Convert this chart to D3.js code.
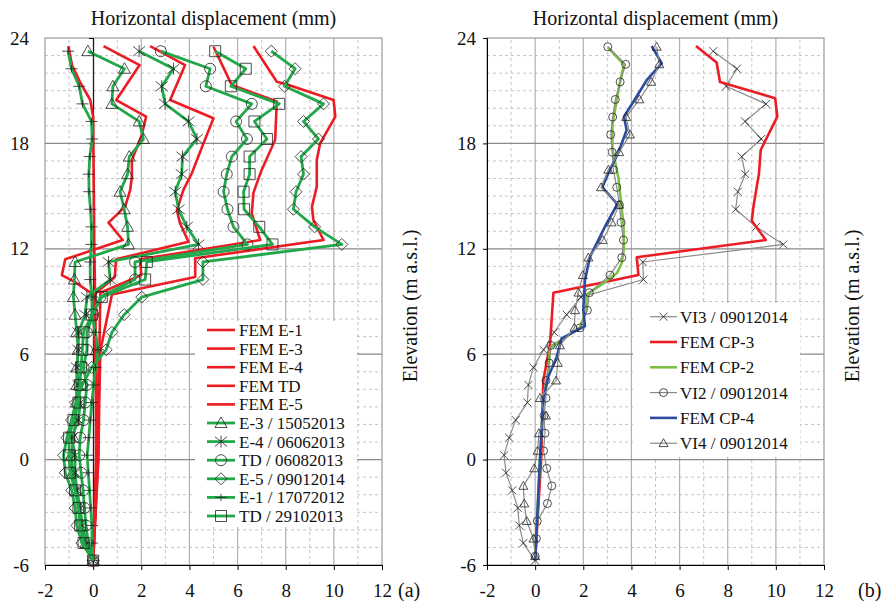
<!DOCTYPE html>
<html>
<head>
<meta charset="utf-8">
<script src="https://cdn.jsdelivr.net/npm/d3@7"></script>
<style>
    body { margin: 0; background: #fff; }
    svg text { font-family: 'Liberation Serif', 'Times New Roman', serif; fill: #111; }
</style>
</head>
<body>
<script>
// axes
const xDomain = [-2, 12];
const yDomain = [-6, 24];
const xTicks = [-2, 0, 2, 4, 6, 8, 10, 12];
const yTicks = [-6, 0, 6, 12, 18, 24];
const xMinor = [-1, 1, 3, 5, 7, 9, 11];
const xMajor = [0, 2, 4, 6, 8, 10];
const yMinor = [-5, -4, -3, -2, -1, 1, 2, 3, 4, 5, 7, 8, 9, 10, 11, 13, 14, 15, 16, 17, 19, 20, 21, 22, 23];
const yMajor = [0, 6, 12, 18];

// reading depths (m a.s.l.)
const levelsA = [23.25, 22.25, 21.25, 20.25, 19.25, 18.25, 17.25, 16.25, 15.25, 14.25, 13.25, 12.25, 11.25, 10.25, 9.25,
    8.25, 7.25, 6.25, 5.25, 4.25, 3.25, 2.25, 1.25, 0.25, -0.75, -1.75, -2.75, -3.75, -4.75, -5.75];
const levelsB = [23.5, 22.5, 21.5, 20.5, 19.5, 18.5, 17.5, 16.5, 15.5, 14.5, 13.5, 12.5, 11.5, 10.5, 9.5,
    8.5, 7.5, 6.5, 5.5, 4.5, 3.5, 2.5, 1.5, 0.5, -0.5, -1.5, -2.5, -3.5, -4.5, -5.5];

// (a) measured displacement (mm), top to bottom
const e3Obs = [-0.22, 1.30, 0.82, 0.78, 1.91, 2.09, 1.50, 1.43, 1.12, 1.29, 1.43, 1.47, -0.75, -0.78, -0.82,
    -0.75, -0.68, -0.62, -0.68, -0.68, -0.70, -0.72, -0.82, -0.90, -0.85, -0.70, -0.55, -0.45, -0.30, 0];
const e4Obs = [1.91, 3.34, 2.85, 2.99, 3.96, 4.31, 3.71, 3.68, 3.41, 3.55, 3.89, 4.38, 0.64, 0.71, -0.26,
    -0.33, -0.61, -0.61, -0.68, -0.61, -0.54, -0.61, -0.89, -0.75, -0.75, -0.68, -0.54, -0.47, -0.26, 0];
const tdAugObs = [2.81, 4.86, 4.68, 6.59, 5.94, 6.39, 5.76, 5.55, 5.42, 5.58, 5.83, 6.41, 1.74, 1.74, 0.29,
    0.0, -0.26, -0.26, -0.40, -0.26, -0.33, -0.40, -0.54, -0.58, -0.50, -0.42, -0.36, -0.30, -0.20, 0];
const e5Obs = [7.40, 8.39, 7.95, 9.57, 8.74, 9.36, 8.64, 8.74, 8.43, 8.32, 9.20, 10.33, 4.56, 4.56, 2.02,
    1.29, 0.78, 0.54, -0.06, -0.45, -0.72, -0.90, -1.09, -1.23, -1.16, -0.89, -0.75, -0.68, -0.47, 0];
const e1Obs = [-1.04, -0.90, -0.58, -0.44, -0.07, -0.04, -0.14, -0.18, -0.17, -0.11, -0.07, -0.07, -0.12, -0.12, -0.05,
    -0.05, 0.10, 0.20, 0.10, 0.02, -0.05, -0.12, -0.18, -0.25, -0.20, -0.15, -0.10, -0.05, -0.05, 0];
const tdOctObs = [5.07, 6.34, 5.72, 7.73, 6.70, 7.22, 6.50, 6.50, 6.25, 6.27, 6.90, 7.45, 2.23, 2.16, 0.36,
    -0.05, -0.40, -0.45, -0.50, -0.55, -0.61, -0.82, -1.00, -1.00, -0.96, -0.75, -0.61, -0.54, -0.40, 0];

// (a) FEM profiles: elevation / displacement
const femE1Elev = [23.54, 22.46, 21.5, 20.47, 19.52, 12, 9.4, 3, 0, -5.75];
const femE1X = [-1.03, -0.88, -0.55, -0.12, 0.0, 0.05, 0.08, 0.12, 0.12, 0];
const femE3Elev = [23.54, 22.46, 20.47, 19.52, 18.48, 17.06, 16.11, 15.35, 14.4, 13.49, 12.5, 11.4, 10.5, 10.1, 9.4, 3, 0, -5.75];
const femE3X = [0.43, 1.93, 0.96, 2.2, 2.02, 1.61, 1.61, 1.54, 1.33, 0.64, 1.23, -1.16, -1.3, -0.75, 0.0, 0.15, 0.15, 0];
const femE4Elev = [23.54, 22.46, 20.47, 19.43, 18.0, 16.3, 15.35, 14.2, 13.45, 12.4, 11.4, 10.4, 9.4, 3, 0, -5.75];
const femE4X = [2.37, 3.82, 3.2, 5.0, 4.58, 4.1, 3.75, 3.48, 3.61, 3.96, 0.95, 0.9, 0.05, 0.18, 0.18, 0];
const femTdElev = [23.5, 21.32, 20.38, 18.19, 16.49, 15.2, 14.02, 12.5, 11.4, 10.5, 9.5, 3, 0, -5.75];
const femTdX = [5.0, 5.76, 7.63, 7.56, 7.0, 6.66, 6.59, 6.94, 1.95, 2.0, 0.3, 0.22, 0.2, 0];
const femE5Elev = [23.54, 21.51, 21.32, 20.47, 19.52, 18.0, 17.06, 15.54, 14.4, 13.64, 12.5, 11.46, 10.4, 9.4, 7.2, 6.2, 3, 0, -5.75];
const femE5X = [6.66, 7.63, 8.12, 9.99, 10.06, 9.43, 9.29, 9.29, 9.09, 9.15, 9.57, 4.24, 4.24, 0.78, 0.45, 0.3, 0.25, 0.22, 0];

// (b) measured
const vi3Obs = [7.40, 8.38, 7.93, 9.59, 8.72, 9.39, 8.58, 8.73, 8.42, 8.33, 9.18, 10.31, 4.47, 4.50, 1.90,
    1.31, 0.79, 0.35, -0.07, -0.28, -0.32, -0.81, -1.08, -1.29, -1.21, -0.95, -0.72, -0.66, -0.49, 0];
const vi2Obs = [3.02, 3.76, 3.53, 3.33, 3.22, 3.14, 3.20, 3.25, 3.39, 3.50, 3.57, 3.67, 3.60, 3.11, 2.25,
    2.17, 1.87, 0.66, 0.58, 0.45, 0.45, 0.37, 0.41, 0.35, 0.48, 0.69, 0.51, 0.09, 0.05, 0];
const vi4Obs = [5.05, 5.16, 4.82, 4.33, 3.78, 3.94, 3.49, 3.04, 2.74, 3.49, 3.18, 2.81, 2.21, 1.98, 1.80,
    1.66, 1.63, 1.03, 0.94, 0.87, 0.20, 0.45, 0.16, 0.10, -0.04, -0.49, -0.45, -0.35, -0.07, 0];

// (b) FEM profiles
const femCp3Elev = [23.54, 22.6, 21.5, 20.57, 19.52, 17.62, 16.3, 14.4, 13.6, 12.5, 11.52, 10.51, 9.5, 6.6, 4.5, 0, -5.75];
const femCp3X = [6.68, 7.54, 7.68, 9.97, 10.06, 9.37, 9.3, 9.07, 9.0, 9.58, 4.22, 4.29, 0.76, 0.62, 0.34, 0.25, 0];
const femCp2Elev = [23.47, 22.48, 21.53, 19.07, 17.74, 16.03, 13.37, 12.04, 11.19, 10.62, 10.05, 9.39, 8.5, 7.55, 6.65, 6.35, 4.93, 3.6, 0, -5.75];
const femCp2X = [3.02, 3.69, 3.53, 3.21, 3.21, 3.46, 3.67, 3.69, 3.6, 3.4, 2.84, 2.14, 2.12, 1.87, 0.97, 0.62, 0.55, 0.34, 0.2, 0];
const femCp4Elev = [23.54, 22.56, 21.61, 20.37, 19.52, 18.76, 17.44, 16.49, 15.5, 14.55, 13.45, 11.55, 10.23, 8.52, 7.6, 6.9, 5.86, 4.73, 3.4, 0, -5.75];
const femCp4X = [4.84, 5.26, 4.64, 4.08, 3.69, 3.8, 3.45, 3.1, 2.79, 3.42, 2.97, 2.28, 2.07, 2.0, 2.07, 1.1, 0.9, 0.55, 0.34, 0.2, 0];

const RED = '#ec1c24', GREEN = '#22a84a', LIGHTGREEN = '#7dc143', BLUE = '#2e4c9f', GREY = '#8a8a8a';

// plain hyphen minus, as in the original figure
const fmt = d => String(d);

function markerPath(type, s) {
    const p = d3.path();
    const h = s / 2;
    if (type === 'triangle') {
        p.moveTo(0, -h); p.lineTo(h, h * 0.75); p.lineTo(-h, h * 0.75); p.closePath();
    } else if (type === 'circle') {
        p.moveTo(h, 0); p.arc(0, 0, h, 0, 2 * Math.PI);
    } else if (type === 'square') {
        p.rect(-h, -h, s, s);
    } else if (type === 'diamond') {
        p.moveTo(0, -h); p.lineTo(h, 0); p.lineTo(0, h); p.lineTo(-h, 0); p.closePath();
    } else if (type === 'plus') {
        p.moveTo(-h, 0); p.lineTo(h, 0); p.moveTo(0, -h * 0.6); p.lineTo(0, h * 0.6);
    } else if (type === 'times') {
        p.moveTo(-h, -h); p.lineTo(h, h); p.moveTo(h, -h); p.lineTo(-h, h);
    } else if (type === 'asterisk') {
        p.moveTo(-h, -h * 0.8); p.lineTo(h, h * 0.8); p.moveTo(h, -h * 0.8); p.lineTo(-h, h * 0.8);
        p.moveTo(0, -h); p.lineTo(0, h);
    }
    return p.toString();
}

class Panel {
    #x
    #y
    #g

    constructor(svg, left, right) {
        this.#x = d3.scaleLinear().domain(xDomain).range([left, right]);
        this.#y = d3.scaleLinear().domain(yDomain).range([565, 38]);
        this.#g = svg.append('g');
    }

    get x() { return this.#x; }
    get y() { return this.#y; }
    get g() { return this.#g; }

    renderGrid() {
        const [x0, x1] = this.x.range();
        const [y0, y1] = this.y.range();
        const grid = this.g.append('g').attr('class', 'grid');
        grid.selectAll('line.vmin').data(xMinor).enter().append('line')
            .attr('x1', d => this.x(d)).attr('x2', d => this.x(d))
            .attr('y1', y0).attr('y2', y1)
            .attr('stroke', '#c4c4c4').attr('stroke-dasharray', '3,3');
        grid.selectAll('line.hmin').data(yMinor).enter().append('line')
            .attr('y1', d => this.y(d)).attr('y2', d => this.y(d))
            .attr('x1', x0).attr('x2', x1)
            .attr('stroke', '#c4c4c4').attr('stroke-dasharray', '3,3');
        grid.selectAll('line.vmaj').data(xMajor).enter().append('line')
            .attr('x1', d => this.x(d)).attr('x2', d => this.x(d))
            .attr('y1', y0).attr('y2', y1)
            .attr('stroke', '#b0b0b0').attr('stroke-width', 1.2);
        grid.selectAll('line.hmaj').data(yMajor).enter().append('line')
            .attr('y1', d => this.y(d)).attr('y2', d => this.y(d))
            .attr('x1', x0).attr('x2', x1)
            .attr('stroke', '#8a8a8a').attr('stroke-width', 1.3);
        grid.append('rect')
            .attr('x', x0).attr('y', y1)
            .attr('width', x1 - x0).attr('height', y0 - y1)
            .attr('fill', 'none').attr('stroke', '#9a9a9a').attr('stroke-width', 1.2);
    }

    renderAxes(axisAt, labelX, title, tag, tagX, elevX) {
        const xAxis = d3.axisBottom(this.x).tickValues(xTicks).tickFormat(fmt).tickSize(5).tickPadding(14);
        const gx = this.g.append('g')
            .attr('transform', 'translate(0,' + this.y(-6) + ')')
            .call(xAxis);
        gx.selectAll('text').style('font-size', '19px');

        const yAxis = d3.axisLeft(this.y).tickValues(yTicks).tickSize(4).tickFormat('');
        this.g.append('g')
            .attr('transform', 'translate(' + this.x(axisAt) + ',0)')
            .call(yAxis);

        const yLab = d3.axisLeft(this.y).tickValues(yTicks).tickFormat(fmt).tickSize(0).tickPadding(0);
        const gl = this.g.append('g')
            .attr('transform', 'translate(' + labelX + ',0)')
            .call(yLab);
        gl.select('.domain').remove();
        gl.selectAll('text').style('font-size', '19px');

        const [x0, x1] = this.x.range();
        this.g.append('text')
            .attr('x', (x0 + x1) / 2).attr('y', 25)
            .attr('text-anchor', 'middle')
            .style('font-size', '20px')
            .text(title);
        this.g.append('text')
            .attr('x', tagX).attr('y', 597)
            .style('font-size', '20px')
            .text(tag);
        this.g.append('text')
            .attr('transform', 'translate(' + elevX + ',306) rotate(-90)')
            .attr('text-anchor', 'middle')
            .style('font-size', '20px')
            .text('Elevation (m a.s.l.)');
    }

    renderSeries(series) {
        const line = d3.line().x(d => this.x(d[0])).y(d => this.y(d[1]));
        series.forEach(s => {
            const pts = d3.zip(s.xs, s.levels);
            const sg = this.g.append('g');
            sg.append('path')
                .attr('d', line(pts))
                .attr('fill', 'none')
                .attr('stroke', s.color)
                .attr('stroke-width', s.width)
                .attr('stroke-linejoin', 'round');
            if (s.marker) {
                sg.selectAll('path.mk').data(pts).enter().append('path')
                    .attr('class', 'mk')
                    .attr('transform', d => 'translate(' + this.x(d[0]) + ',' + this.y(d[1]) + ')')
                    .attr('d', markerPath(s.marker, s.size))
                    .attr('fill', 'none')
                    .attr('stroke', '#222')
                    .attr('stroke-width', 0.8);
            }
        });
    }

    renderLegend(series, box, rowY, rowGap, lineX, textX) {
        const lg = this.g.append('g').attr('class', 'legend');
        lg.append('rect')
            .attr('x', box[0]).attr('y', box[1])
            .attr('width', box[2]).attr('height', box[3])
            .attr('fill', '#fff');
        series.forEach((s, i) => {
            const yy = rowY + i * rowGap;
            lg.append('line')
                .attr('x1', lineX[0]).attr('x2', lineX[1])
                .attr('y1', yy).attr('y2', yy)
                .attr('stroke', s.color).attr('stroke-width', s.width);
            if (s.marker) {
                lg.append('path')
                    .attr('transform', 'translate(' + (lineX[0] + lineX[1]) / 2 + ',' + yy + ')')
                    .attr('d', markerPath(s.marker, s.size))
                    .attr('fill', 'none')
                    .attr('stroke', '#222')
                    .attr('stroke-width', 0.8);
            }
            lg.append('text')
                .attr('x', textX).attr('y', yy)
                .attr('dy', '0.35em')
                .style('font-size', '17px')
                .text(s.label);
        });
    }
}

const seriesA = [
    { label: 'FEM E-1', xs: femE1X, levels: femE1Elev, color: RED, width: 2.6 },
    { label: 'FEM E-3', xs: femE3X, levels: femE3Elev, color: RED, width: 2.6 },
    { label: 'FEM E-4', xs: femE4X, levels: femE4Elev, color: RED, width: 2.6 },
    { label: 'FEM TD', xs: femTdX, levels: femTdElev, color: RED, width: 2.6 },
    { label: 'FEM E-5', xs: femE5X, levels: femE5Elev, color: RED, width: 2.6 },
    { label: 'E-3 / 15052013', xs: e3Obs, levels: levelsA, color: GREEN, width: 2.8, marker: 'triangle', size: 12 },
    { label: 'E-4 / 06062013', xs: e4Obs, levels: levelsA, color: GREEN, width: 2.8, marker: 'asterisk', size: 12 },
    { label: 'TD / 06082013', xs: tdAugObs, levels: levelsA, color: GREEN, width: 2.8, marker: 'circle', size: 11 },
    { label: 'E-5 / 09012014', xs: e5Obs, levels: levelsA, color: GREEN, width: 2.8, marker: 'diamond', size: 12 },
    { label: 'E-1 / 17072012', xs: e1Obs, levels: levelsA, color: GREEN, width: 2.8, marker: 'plus', size: 12 },
    { label: 'TD / 29102013', xs: tdOctObs, levels: levelsA, color: GREEN, width: 2.8, marker: 'square', size: 11 }
];

const seriesB = [
    { label: 'VI3 / 09012014', xs: vi3Obs, levels: levelsA, color: GREY, width: 1.2, marker: 'times', size: 8 },
    { label: 'FEM CP-3', xs: femCp3X, levels: femCp3Elev, color: RED, width: 2.6 },
    { label: 'FEM CP-2', xs: femCp2X, levels: femCp2Elev, color: LIGHTGREEN, width: 2.6 },
    { label: 'VI2 / 09012014', xs: vi2Obs, levels: levelsB, color: GREY, width: 1.2, marker: 'circle', size: 8 },
    { label: 'FEM CP-4', xs: femCp4X, levels: femCp4Elev, color: BLUE, width: 2.6 },
    { label: 'VI4 / 09012014', xs: vi4Obs, levels: levelsB, color: GREY, width: 1.2, marker: 'triangle', size: 9 }
];

const svg = d3.select('body').append('svg')
    .attr('width', 884)
    .attr('height', 601);

const pa = new Panel(svg, 45, 382);
pa.renderGrid();
pa.renderLegend(seriesA, [195, 321, 162, 206], 330, 18.6, [207, 235], 239);
pa.renderAxes(0, 29, 'Horizontal displacement (mm)', '(a)', 398, 417);
pa.renderSeries(seriesA);

const pb = new Panel(svg, 487, 824);
pb.renderGrid();
pb.renderLegend(seriesB, [633, 303, 167, 154], 316.7, 25.3, [650, 677], 680);
pb.renderAxes(-2, 476, 'Horizontal displacement (mm)', '(b)', 858, 859);
pb.renderSeries(seriesB);
</script>
</body>
</html>
